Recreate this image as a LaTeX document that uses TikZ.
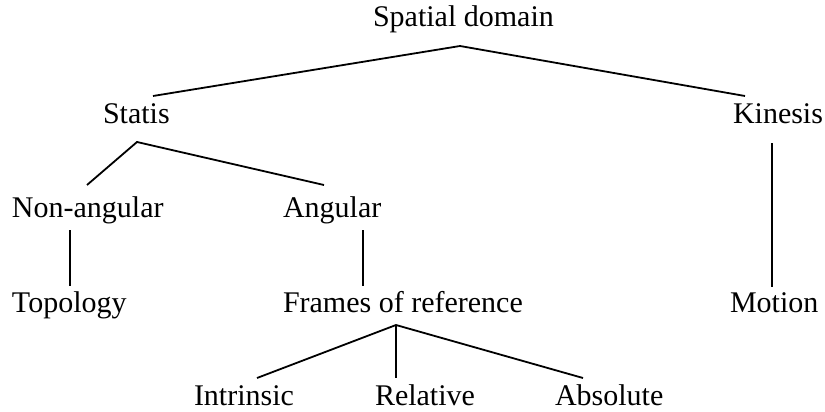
\documentclass[tikz,border=0pt]{standalone}
\usepackage{fontspec}
\setmainfont{Liberation Serif}
\begin{document}
\begin{tikzpicture}[x=1pt,y=-1pt,
  lbl/.style={anchor=base west,inner sep=0pt,outer sep=0pt,font=\fontsize{30}{36}\selectfont},
  edge/.style={line width=1.8pt,line cap=butt},
  thickedge/.style={line width=2.5pt,line cap=butt}]
\useasboundingbox (0,0) rectangle (825,412);
% labels
\node[lbl] (sd) at (373,27) {Spatial domain};
\node[lbl] (statis) at (103,123) {Statis};
\node[lbl] (kinesis) at (733,123) {Kinesis};
\node[lbl] (nonang) at (12,217) {Non-angular};
\node[lbl] (ang) at (283,217) {Angular};
\node[lbl] (topo) at (12,312) {Topology};
\node[lbl] (frames) at (283,312) {Frames of reference};
\node[lbl] (motion) at (730,312) {Motion};
\node[lbl] (intr) at (194,405) {Intrinsic};
\node[lbl] (rel) at (375,405) {Relative};
\node[lbl] (abs) at (555,405) {Absolute};
% connector end points
\coordinate (sdB) at (460,46);
\coordinate (statisT) at (153,96);
\coordinate (kinesisT) at (745,96);
\coordinate (statisB) at (137,142);
\coordinate (nonangT) at (87,185);
\coordinate (angT) at (324,185);
\coordinate (nonangB) at (70,230);
\coordinate (topoT) at (70,286);
\coordinate (angB) at (363,230);
\coordinate (framesT) at (363,286);
\coordinate (kinesisB) at (772,143);
\coordinate (motionT) at (772,287);
\coordinate (framesB) at (396,325);
\coordinate (intrT) at (257,378);
\coordinate (relT) at (396,378);
\coordinate (absT) at (583,378);
% connectors
\draw[edge] (statisT) -- (sdB) -- (kinesisT);
\draw[edge] (nonangT) -- (statisB) -- (angT);
\draw[edge] (nonangB) -- (topoT);
\draw[thickedge] (angB) -- (framesT);
\draw[edge] (kinesisB) -- (motionT);
\draw[edge] (intrT) -- (framesB) -- (absT);
\draw[edge] (framesB) -- (relT);
\end{tikzpicture}
\end{document}
